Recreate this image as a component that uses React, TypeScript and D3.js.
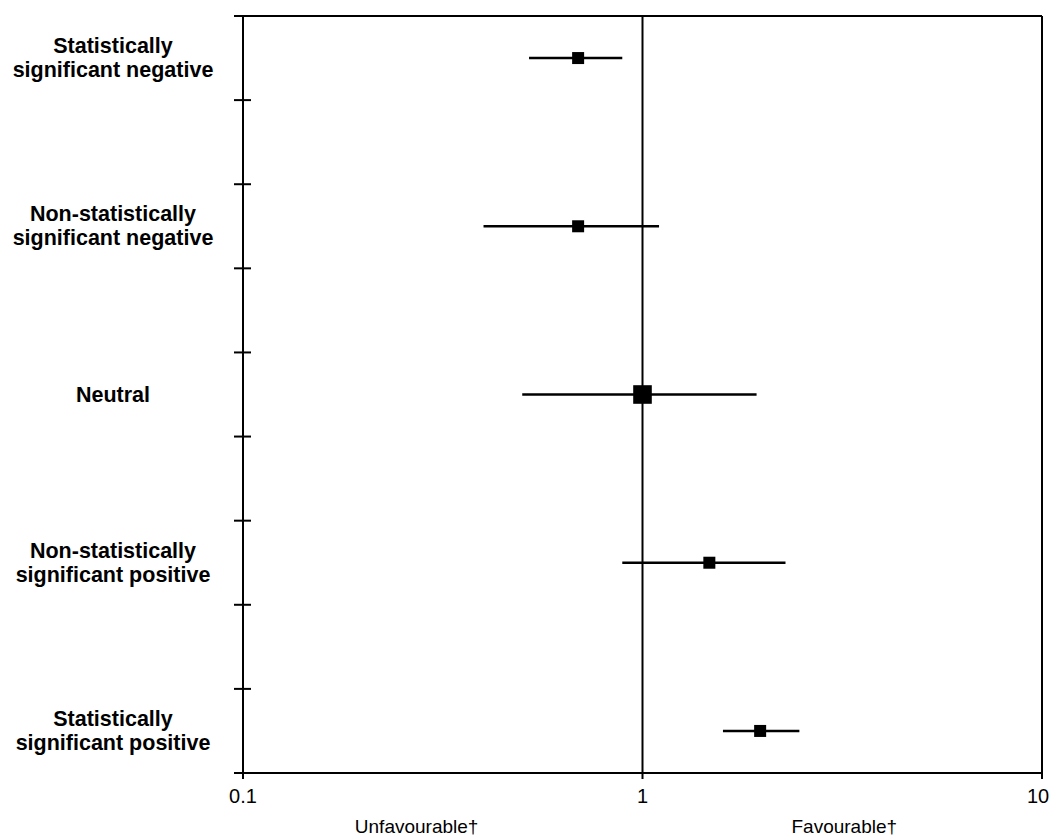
import React from 'react';
import * as d3 from 'd3';

// forest plot data
const categories = [
  ['Statistically', 'significant negative'],
  ['Non-statistically', 'significant negative'],
  ['Neutral'],
  ['Non-statistically', 'significant positive'],
  ['Statistically', 'significant positive'],
];
const rowPositions = [0.5, 2.5, 4.5, 6.5, 8.5];
const estimates = [0.69, 0.69, 1.0, 1.47, 1.97];
const lowerCI = [0.52, 0.4, 0.5, 0.89, 1.59];
const upperCI = [0.89, 1.1, 1.93, 2.28, 2.47];
const weights = [1, 1, 2.4, 1, 1];
const xTicks = [0.1, 1, 10];
const yTicks = [0, 1, 2, 3, 4, 5, 6, 7, 8];
const directionLabels = ['Unfavourable†', 'Favourable†'];
const directionAt = [0.272, 3.2];

const width = 1054;
const height = 837;
const marginLeft = 243;
const marginRight = 12;
const marginTop = 16;
const marginBottom = 64;

const App = () => {
  const x = d3.scaleLog().domain([0.1, 10]).range([marginLeft, width - marginRight]);
  const y = d3.scaleLinear().domain([0, 9]).range([marginTop, height - marginBottom]);
  const size = d3.scaleSqrt().domain([0, 1]).range([0, 12]);

  const font = 'Arial, "Liberation Sans", sans-serif';
  const y0 = y(0);
  const y9 = y(9);
  const labelX = 113;

  return (
    <svg width={width} height={height} style={{ position: 'absolute', left: 0, top: 0, background: '#fff' }}>
      {/* frame */}
      <line x1={x(0.1)} x2={x(0.1)} y1={y0} y2={y9 + 6} stroke="#000" strokeWidth={2} />
      <line x1={x(0.1) - 9} x2={x(10)} y1={y9} y2={y9} stroke="#000" strokeWidth={2} />
      <line x1={x(0.1) - 9} x2={x(10)} y1={y0} y2={y0} stroke="#000" strokeWidth={2} />
      <line x1={x(10)} x2={x(10)} y1={y0} y2={y9 + 6} stroke="#000" strokeWidth={2} />
      {/* reference line at 1 */}
      <line x1={x(1)} x2={x(1)} y1={y0} y2={y9 + 6} stroke="#000" strokeWidth={2} />

      {/* y ticks */}
      {yTicks.slice(1).map(t => (
        <line key={t} x1={x(0.1) - 9} x2={x(0.1) + 8} y1={y(t)} y2={y(t)} stroke="#000" strokeWidth={2} />
      ))}

      {/* x tick labels */}
      {xTicks.map(t => (
        <text key={t} x={x(t) - (t === 10 ? 4 : 0)} y={y9 + 30} textAnchor="middle" fontFamily={font} fontSize={20}>
          {t}
        </text>
      ))}
      {directionLabels.map((l, i) => (
        <text key={l} x={x(directionAt[i])} y={y9 + 60} textAnchor="middle" fontFamily={font} fontSize={19}>
          {l}
        </text>
      ))}

      {/* category labels */}
      {categories.map((lines, i) => (
        <text key={i} x={labelX} y={y(rowPositions[i])} textAnchor="middle" fontFamily={font} fontSize={21.5} fontWeight="bold">
          {lines.map((ln, j) => (
            <tspan key={j} x={labelX} dy={j === 0 ? (-(lines.length - 1) * 24) / 2 + 7 : 24}>
              {ln}
            </tspan>
          ))}
        </text>
      ))}

      {/* CIs and point estimates */}
      {estimates.map((e, i) => {
        const cy = y(rowPositions[i]);
        const s = size(weights[i]);
        return (
          <g key={i}>
            <line x1={x(lowerCI[i])} x2={x(upperCI[i])} y1={cy} y2={cy} stroke="#000" strokeWidth={2.5} />
            <rect x={x(e) - s / 2} y={cy - s / 2} width={s} height={s} fill="#000" />
          </g>
        );
      })}
    </svg>
  );
};

export default App;
